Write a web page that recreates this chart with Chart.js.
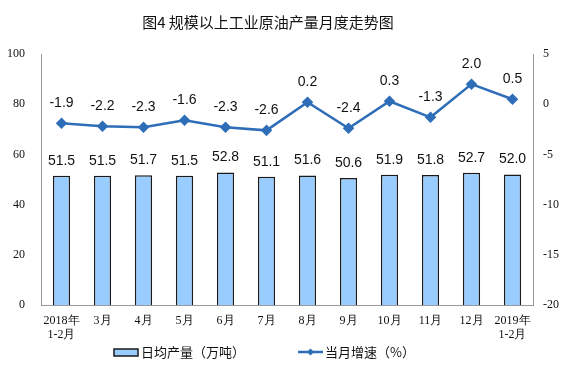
<!DOCTYPE html>
<html>
<head>
<meta charset="utf-8">
<script src="https://cdn.jsdelivr.net/npm/chart.js@4/dist/chart.umd.min.js"></script>
<style>
  html, body { margin: 0; padding: 0; background: #fff; }
  #wrap { width: 576px; height: 384px; }
</style>
</head>
<body>
<div id="wrap"><canvas id="chart" width="576" height="384"></canvas></div>
<script>
// data
var months = [["2018年", "1-2月"], "3月", "4月", "5月", "6月", "7月", "8月", "9月", "10月", "11月", "12月", ["2019年", "1-2月"]];
var dailyOutput = [51.5, 51.5, 51.7, 51.5, 52.8, 51.1, 51.6, 50.6, 51.9, 51.8, 52.7, 52.0];
var growthRate = [-1.9, -2.2, -2.3, -1.6, -2.3, -2.6, 0.2, -2.4, 0.3, -1.3, 2.0, 0.5];
var leftTicks = [0, 20, 40, 60, 80, 100];
var rightTicks = [-20, -15, -10, -5, 0, 5];
var titleText = "图4 规模以上工业原油产量月度走势图";

var barFill = "#99CCFF";
var barEdge = "#1a1a1a";
var lineColor = "#2E6DB8";
var serif = "'Liberation Serif', 'Times New Roman', serif";
var cjk = "'Noto Sans CJK SC', sans-serif";

// title sits a little left of centre in the original
var titlePlugin = {
  id: "titlePlugin",
  afterDraw: function (chart) {
    var ctx = chart.ctx;
    ctx.save();
    ctx.font = "15px " + cjk;
    ctx.fillStyle = "#111";
    ctx.textAlign = "center";
    ctx.textBaseline = "middle";
    ctx.fillText(titleText, 268, 22);
    ctx.restore();
  }
};

// value labels above bars and points
var valueLabels = {
  id: "valueLabels",
  afterDatasetsDraw: function (chart) {
    var ctx = chart.ctx;
    ctx.save();
    ctx.font = "14px 'Liberation Sans', Arial, sans-serif";
    ctx.fillStyle = "#111";
    ctx.textAlign = "center";
    ctx.textBaseline = "bottom";
    chart.data.datasets.forEach(function (ds, i) {
      var meta = chart.getDatasetMeta(i);
      meta.data.forEach(function (el, j) {
        var off = ds.type === "line" ? 13 : 8;
        ctx.fillText(ds.data[j].toFixed(1), el.x, el.y - off);
      });
    });
    ctx.restore();
  }
};

// legend: box for bars, line with diamond for the rate
var customLegend = {
  id: "customLegend",
  afterDraw: function (chart) {
    var ctx = chart.ctx;
    var y = 352;
    ctx.save();
    ctx.font = "13px " + cjk;
    ctx.textBaseline = "middle";
    ctx.fillStyle = barFill;
    ctx.fillRect(114, y - 3, 24, 7);
    ctx.strokeStyle = barEdge;
    ctx.lineWidth = 1.5;
    ctx.strokeRect(114, y - 3, 24, 7);
    ctx.fillStyle = "#111";
    ctx.fillText(chart.data.datasets[0].label, 141, y);

    ctx.strokeStyle = lineColor;
    ctx.lineWidth = 2.5;
    ctx.beginPath();
    ctx.moveTo(298, y);
    ctx.lineTo(323, y);
    ctx.stroke();
    ctx.fillStyle = lineColor;
    ctx.beginPath();
    ctx.moveTo(310.5, y - 3.5);
    ctx.lineTo(314, y);
    ctx.lineTo(310.5, y + 3.5);
    ctx.lineTo(307, y);
    ctx.closePath();
    ctx.fill();
    ctx.fillStyle = "#111";
    ctx.fillText(chart.data.datasets[1].label, 325, y);
    ctx.restore();
  }
};

new Chart(document.getElementById("chart"), {
  data: {
    labels: months,
    datasets: [
      {
        type: "bar",
        label: "日均产量（万吨）",
        data: dailyOutput,
        backgroundColor: barFill,
        borderColor: barEdge,
        borderWidth: 1.5,
        barPercentage: 0.42,
        categoryPercentage: 1,
        yAxisID: "y",
        order: 2
      },
      {
        type: "line",
        label: "当月增速（%）",
        data: growthRate,
        borderColor: lineColor,
        backgroundColor: lineColor,
        borderWidth: 2.5,
        pointStyle: "rectRot",
        pointRadius: 4,
        pointHoverRadius: 4,
        tension: 0,
        yAxisID: "y1",
        order: 1
      }
    ]
  },
  options: {
    responsive: false,
    animation: false,
    layout: { padding: { top: 54, bottom: 34, left: 0, right: 0 } },
    plugins: {
      legend: { display: false },
      tooltip: { enabled: false },
      title: { display: false }
    },
    scales: {
      x: {
        grid: { display: false, drawTicks: false },
        border: { color: "#999", width: 1 },
        ticks: {
          color: "#111",
          font: { family: serif, size: 12 },
          maxRotation: 0,
          autoSkip: false,
          padding: 8
        }
      },
      y: {
        position: "left",
        min: 0,
        max: 100,
        afterBuildTicks: function (axis) {
          axis.ticks = leftTicks.map(function (v) { return { value: v }; });
        },
        afterFit: function (axis) { axis.width = 41; },
        grid: { display: false, drawTicks: true, tickLength: 4, tickColor: "#999" },
        border: { color: "#999", width: 1 },
        ticks: { color: "#111", font: { family: serif, size: 12 }, padding: 12 }
      },
      y1: {
        position: "right",
        min: -20,
        max: 5,
        afterBuildTicks: function (axis) {
          axis.ticks = rightTicks.map(function (v) { return { value: v }; });
        },
        afterFit: function (axis) { axis.width = 43; },
        grid: { display: false, drawTicks: true, tickLength: 4, tickColor: "#999" },
        border: { color: "#999", width: 1 },
        ticks: { color: "#111", font: { family: serif, size: 12 }, padding: 6 }
      }
    }
  },
  plugins: [titlePlugin, valueLabels, customLegend]
});
</script>
</body>
</html>
